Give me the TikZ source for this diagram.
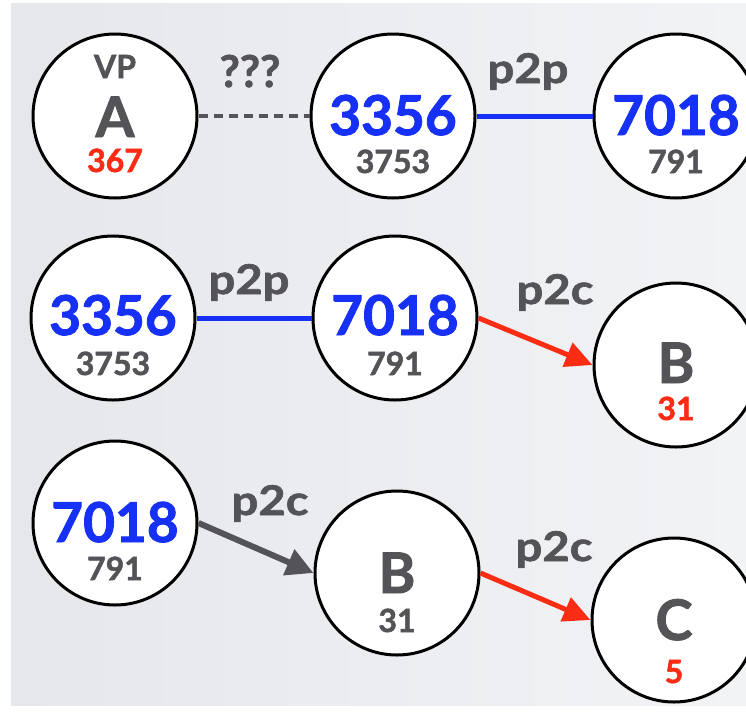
\documentclass[tikz,border=0pt]{standalone}
\usepackage{fontspec}
\setmainfont{Lato}[BoldFeatures={FakeBold=1.6}]
\newfontfamily\lblfont{Lato}[FakeStretch=1.15,BoldFeatures={FakeBold=1.6}]
\usetikzlibrary{arrows.meta,calc}
\definecolor{bgL}{RGB}{229,231,235}
\definecolor{bgR}{RGB}{242,243,245}
\definecolor{asblue}{RGB}{22,48,245}
\definecolor{asred}{RGB}{250,45,20}
\definecolor{asgray}{RGB}{84,84,88}
\begin{document}
\begin{tikzpicture}[x=1pt,y=-1pt,
  asnode/.style={circle,draw=black,line width=3pt,fill=white,minimum size=164pt,inner sep=0pt},
  bigblue/.style={font=\bfseries\fontsize{55}{55}\selectfont,text=asblue,anchor=base,inner sep=0pt},
  bigletter/.style={font=\bfseries\fontsize{56}{56}\selectfont,text=asgray,anchor=base,inner sep=0pt},
  smallgray/.style={font=\bfseries\fontsize{32}{32}\selectfont,text=asgray,anchor=base,inner sep=0pt},
  smallred/.style={font=\bfseries\fontsize{32}{32}\selectfont,text=asred,anchor=base,inner sep=0pt},
  rel/.style={font=\lblfont\bfseries\fontsize{41}{41}\selectfont,text=asgray,anchor=base,inner sep=0pt},
  peer/.style={draw=asblue,line width=5pt},
  custred/.style={draw=asred,line width=5pt,-{Triangle[length=27pt,width=25pt]}},
  custgray/.style={draw=asgray,line width=6pt,-{Triangle[length=27pt,width=27pt]}},
  unknown/.style={draw=asgray,line width=4pt,dash pattern=on 9pt off 6pt}
]
\useasboundingbox (0,0) rectangle (746,715);
\fill[white] (0,0) rectangle (746,715);
\shade[left color=bgL,right color=bgR] (11,3) rectangle (746,705);

% row 1
\node[asnode] (A) at (115,116) {};
\node[asnode] (t3356) at (393,116) {};
\node[asnode] (t7018) at (676,116) {};
\draw[unknown] (A.east) -- (t3356.west);
\draw[peer] (t3356.east) -- (t7018.west);
\node[rel,font=\bfseries\fontsize{44}{44}\selectfont] (q) at (250,87) {???};
\node[rel] (lp1) at (528,83) {p2p};
\node[smallgray] (vp) at ($(A)+(0,-38)$) {VP};
\node[bigletter] (a) at ($(A)+(0,21)$) {A};
\node[smallred] (a367) at ($(A)+(0,56)$) {367};
\node[bigblue] (t3356a) at ($(t3356)+(0,19)$) {3356};
\node[smallgray] (t3356b) at ($(t3356)+(0,57)$) {3753};
\node[bigblue] (t7018a) at ($(t7018)+(0,19)$) {7018};
\node[smallgray] (t7018b) at ($(t7018)+(0,57)$) {791};

% row 2
\node[asnode] (s3356) at (113,318) {};
\node[asnode] (s7018) at (395,318) {};
\node[asnode] (B2) at (676,365) {};
\draw[peer] (s3356.east) -- (s7018.west);
\draw[custred] (s7018.east) -- (B2.west);
\node[rel] (lp2) at (249,294) {p2p};
\node[rel] (lc2) at (555,304) {p2c};
\node[bigblue] (s3356a) at ($(s3356)+(0,17)$) {3356};
\node[smallgray] (s3356b) at ($(s3356)+(0,57)$) {3753};
\node[bigblue] (s7018a) at ($(s7018)+(0,17)$) {7018};
\node[smallgray] (s7018b) at ($(s7018)+(0,57)$) {791};
\node[bigletter] (b2a) at ($(B2)+(0,18)$) {B};
\node[smallred] (b2b) at ($(B2)+(0,55)$) {31};

% row 3
\node[asnode] (u7018) at (115,523) {};
\node[asnode] (B3) at (397,573) {};
\node[asnode] (C) at (674,620) {};
\draw[custgray] (u7018.east) -- (B3.west);
\draw[custred] (B3.east) -- (C.west);
\node[rel] (lc3) at (270,515) {p2c};
\node[rel] (lc4) at (554,561) {p2c};
\node[bigblue] (u7018a) at ($(u7018)+(0,19)$) {7018};
\node[smallgray] (u7018b) at ($(u7018)+(0,57)$) {791};
\node[bigletter] (b3a) at ($(B3)+(0,20)$) {B};
\node[smallgray] (b3b) at ($(B3)+(0,59)$) {31};
\node[bigletter] (ca) at ($(C)+(0,20)$) {C};
\node[smallred] (cb) at ($(C)+(0,63)$) {5};
\end{tikzpicture}
\end{document}
